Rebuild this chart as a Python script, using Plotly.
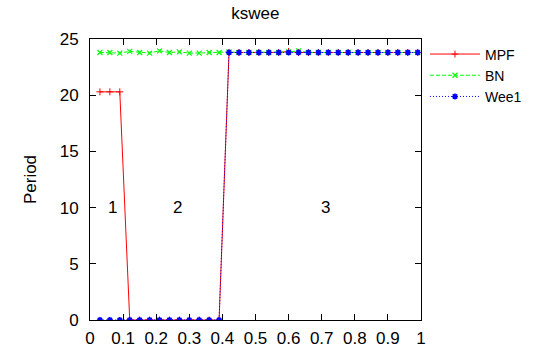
import plotly.graph_objects as go

x_vals = [0.03, 0.06, 0.09, 0.12, 0.15, 0.18, 0.21, 0.24, 0.27, 0.30, 0.33,
          0.36, 0.39, 0.42, 0.45, 0.48, 0.51, 0.54, 0.57, 0.60, 0.63, 0.66,
          0.69, 0.72, 0.75, 0.78, 0.81, 0.84, 0.87, 0.90, 0.93, 0.96, 0.99]

mpf = [20.3, 20.3, 20.3, 0, 0, 0, 0, 0, 0, 0, 0, 0, 0,
       23.8, 23.8, 23.8, 23.8, 23.8, 23.8, 23.9, 23.8, 23.8, 23.8, 23.8,
       23.8, 23.8, 23.8, 23.8, 23.8, 23.8, 23.8, 23.8, 23.8]

bn = [23.8, 23.8, 23.75, 23.9, 23.8, 23.75, 23.95, 23.8, 23.85, 23.75, 23.75,
      23.8, 23.8, 23.85, 23.8, 23.8, 23.8, 23.8, 23.8, 23.85, 23.95, 23.8,
      23.8, 23.8, 23.8, 23.8, 23.8, 23.8, 23.8, 23.8, 23.8, 23.8, 23.8]

wee1 = [0, 0, 0, 0, 0, 0, 0, 0, 0, 0, 0, 0, 0,
        23.8, 23.8, 23.8, 23.8, 23.8, 23.8, 23.8, 23.8, 23.8, 23.8, 23.8,
        23.8, 23.8, 23.8, 23.8, 23.8, 23.8, 23.8, 23.8, 23.8]

region_labels = ["1", "2", "3"]
region_x = [0.067, 0.264, 0.712]
region_y = [10, 10, 10]

x_ticks = [0, 0.1, 0.2, 0.3, 0.4, 0.5, 0.6, 0.7, 0.8, 0.9, 1]
x_tick_text = ["0", "0.1", "0.2", "0.3", "0.4", "0.5", "0.6", "0.7", "0.8", "0.9", "1"]
y_ticks = [0, 5, 10, 15, 20, 25]

FONT = "Liberation Sans, Arial, Helvetica, sans-serif"
FS = 17

fig = go.Figure()
fig.add_trace(go.Scatter(
    x=x_vals, y=mpf, name="MPF", mode="lines+markers",
    line=dict(color="#ff0000", width=1),
    marker=dict(symbol="cross-thin-open", size=5, line=dict(color="#ff0000", width=1), color="#ff0000"),
))
fig.add_trace(go.Scatter(
    x=x_vals, y=bn, name="BN", mode="lines+markers",
    line=dict(color="#00ff00", width=1, dash="4px,2px"),
    marker=dict(symbol="x-thin-open", size=5, line=dict(color="#00ff00", width=1.2), color="#00ff00"),
))
fig.add_trace(go.Scatter(
    x=x_vals, y=wee1, name="Wee1", mode="lines+markers",
    line=dict(color="#0000ff", width=1, dash="1px,2px"),
    marker=dict(symbol="asterisk-open", size=5, line=dict(color="#0000ff", width=1.6), color="#0000ff"),
))

for t, xx, yy in zip(region_labels, region_x, region_y):
    fig.add_annotation(x=xx, y=yy, text=t, showarrow=False,
                       font=dict(family=FONT, size=FS, color="black"))

fig.update_layout(
    width=533, height=348,
    margin=dict(l=90, r=112, t=39, b=28, autoexpand=False),
    paper_bgcolor="white", plot_bgcolor="white",
    font=dict(family=FONT, size=FS, color="black"),
    title=dict(text="kswee", x=0.479, xanchor="center", y=0.963, yanchor="middle",
               font=dict(family=FONT, size=FS, color="black")),
    showlegend=True,
    legend=dict(x=1.012, y=1.002, xanchor="left", yanchor="top",
                font=dict(family=FONT, size=14, color="black"),
                bgcolor="rgba(0,0,0,0)", borderwidth=0, tracegroupgap=0,
                itemwidth=50),
)
fig.update_xaxes(
    range=[0, 1], tickvals=x_ticks, ticktext=x_tick_text, automargin=False,
    ticks="inside", ticklen=6, tickcolor="black", tickwidth=1,
    showline=True, linecolor="black", linewidth=1, mirror="ticks",
    showgrid=False, zeroline=False, ticklabelstandoff=3,
    tickfont=dict(family=FONT, size=FS, color="black"),
)
fig.update_yaxes(
    range=[0, 25], tickvals=y_ticks, automargin=False,
    ticks="inside", ticklen=6, tickcolor="black", tickwidth=1,
    showline=True, linecolor="black", linewidth=1, mirror="ticks",
    showgrid=False, zeroline=False, ticklabelstandoff=7,
    title=dict(text="Period", standoff=18, font=dict(family=FONT, size=FS, color="black")),
    tickfont=dict(family=FONT, size=FS, color="black"),
)

fig.write_html("out.html")
